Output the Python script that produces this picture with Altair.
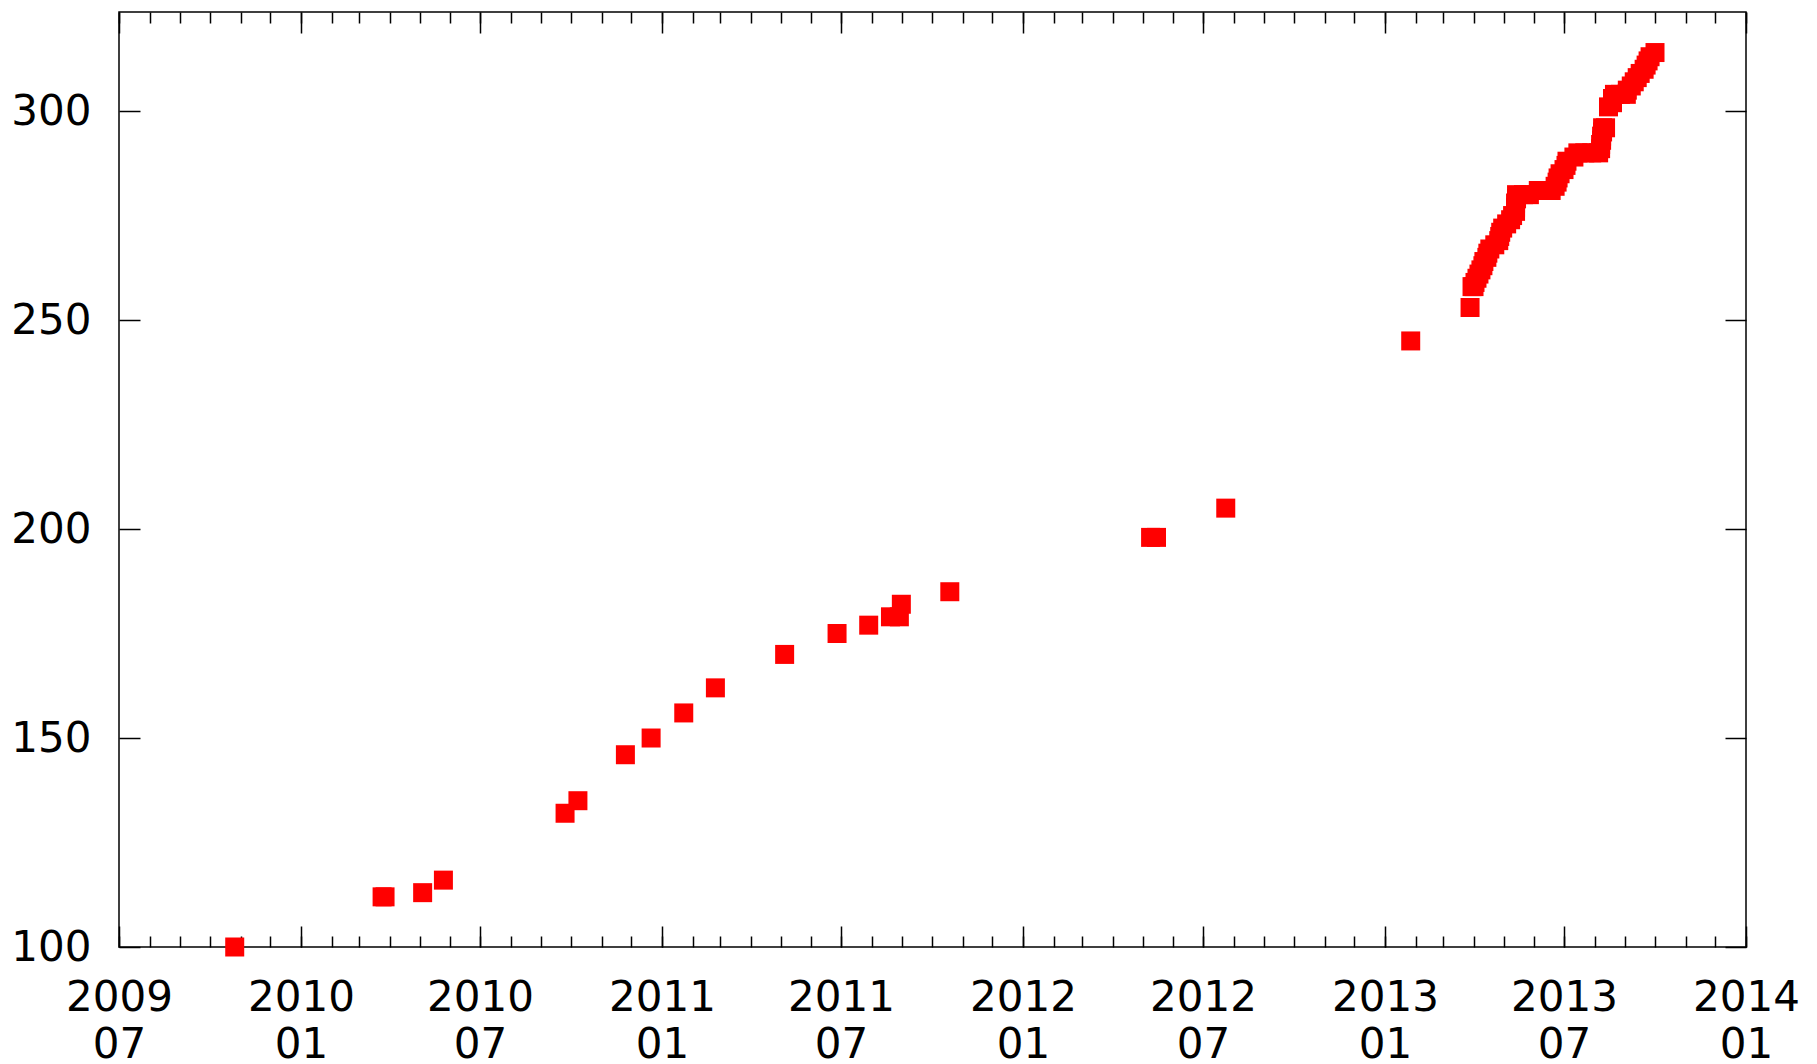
import altair as alt
import pandas as pd

# ---- data ----
dates = [
    "2009-10-26", "2010-03-24", "2010-03-27", "2010-05-04", "2010-05-25",
    "2010-09-25", "2010-10-08", "2010-11-25", "2010-12-21", "2011-01-23",
    "2011-02-24", "2011-05-05", "2011-06-27", "2011-07-29", "2011-08-20",
    "2011-08-29", "2011-08-31", "2011-10-19", "2012-05-09", "2012-05-15",
    "2012-07-24", "2013-01-27", "2013-03-28",
    "2013-03-30", "2013-04-01", "2013-04-02", "2013-04-04", "2013-04-06",
    "2013-04-08", "2013-04-10", "2013-04-11", "2013-04-14", "2013-04-15",
    "2013-04-17", "2013-04-22", "2013-04-26", "2013-04-27", "2013-04-28",
    "2013-04-30", "2013-05-04", "2013-05-08", "2013-05-10", "2013-05-13",
    "2013-05-13", "2013-05-13", "2013-05-14", "2013-05-14", "2013-05-21",
    "2013-05-27", "2013-06-05", "2013-06-11", "2013-06-18", "2013-06-22",
    "2013-06-24", "2013-06-25", "2013-06-27", "2013-07-01", "2013-07-03",
    "2013-07-04", "2013-07-11", "2013-07-15", "2013-07-22", "2013-07-29",
    "2013-08-05", "2013-08-07", "2013-08-07", "2013-08-08", "2013-08-08",
    "2013-08-09", "2013-08-09", "2013-08-12", "2013-08-15", "2013-08-19",
    "2013-08-19", "2013-08-21", "2013-08-27", "2013-09-02", "2013-09-03",
    "2013-09-07", "2013-09-10", "2013-09-13", "2013-09-16", "2013-09-20",
    "2013-09-22", "2013-09-24", "2013-09-26", "2013-10-01",
]
counts = [
    100, 112, 112, 113, 116,
    132, 135, 146, 150, 156,
    162, 170, 175, 177, 179,
    179, 182, 185, 198, 198,
    205, 245, 253,
    258, 258, 259, 260, 261,
    262, 263, 264, 265, 266,
    267, 268, 269, 270, 271,
    272, 273, 274, 275, 276,
    277, 278, 279, 280, 280,
    280, 281, 281, 281, 282,
    283, 284, 285, 286, 287,
    288, 289, 290, 290, 290,
    290, 291, 292, 293, 294,
    295, 296, 296, 301, 302,
    303, 304, 304, 304, 305,
    306, 307, 308, 309, 310,
    311, 312, 313, 314,
]

major_months = [(2009, 7), (2010, 1), (2010, 7), (2011, 1), (2011, 7),
                (2012, 1), (2012, 7), (2013, 1), (2013, 7), (2014, 1)]
y_ticks = [100, 150, 200, 250, 300]

df = pd.DataFrame({"date": dates, "count": counts})

W, H = 1627, 935
FONT = "DejaVu Sans"
MAJ, MIN = 21, 11
TW = 1.5


def dt(y, m):
    return alt.DateTime(year=y, month=m, date=1, utc=True)


major_x = [dt(y, m) for (y, m) in major_months]
minor_x = [dt(2009 + (6 + i) // 12, (6 + i) % 12 + 1) for i in range(55)]

xscale = alt.Scale(type="utc", domain=[dt(2009, 7), dt(2014, 1)], nice=False)
yscale = alt.Scale(domain=[100, 323.7], nice=False, zero=False)


def tick_axis(orient, values, size, offset):
    return alt.Axis(orient=orient, offset=offset, values=values, tickSize=size,
                    tickWidth=TW, tickColor="black", labels=False,
                    domain=False, grid=False, title=None)


def layer(x_axis, y_axis, visible):
    return alt.Chart(df).mark_square(
        size=361, color="#ff0000", opacity=1 if visible else 0, strokeWidth=0
    ).encode(
        x=alt.X("date:T", scale=xscale, axis=x_axis, title=None),
        y=alt.Y("count:Q", scale=yscale, axis=y_axis, title=None),
    )


x_labels = alt.Axis(
    orient="bottom", values=major_x, ticks=False, tickSize=0, domain=False,
    grid=False, title=None,
    labelExpr="[utcFormat(datum.value, '%Y'), utcFormat(datum.value, '%m')]",
    labelFont=FONT, labelFontSize=42, labelColor="black", labelPadding=30,
    labelLineHeight=47, labelFlush=False, labelOverlap=False,
    labelBaseline="top", labelAlign="center",
)
y_labels = alt.Axis(
    orient="left", values=y_ticks, ticks=False, tickSize=0, domain=False,
    grid=False, title=None, labelFont=FONT, labelFontSize=42,
    labelColor="black", labelPadding=28, labelOverlap=False,
    labelFlush=False, labelBaseline="middle",
)

l0 = layer(x_labels, y_labels, True)
l1 = layer(tick_axis("top", major_x, MAJ, -H), tick_axis("right", y_ticks, MAJ, -W), False)
l2 = layer(tick_axis("top", minor_x, MIN, -H), tick_axis("left", y_ticks, MAJ, -W), False)
l3 = layer(tick_axis("bottom", major_x, MAJ, -H), None, False)
l4 = layer(tick_axis("bottom", minor_x, MIN, -H), None, False)

chart = (
    alt.layer(l1, l2, l3, l4, l0)
    .resolve_axis(x="independent", y="independent")
    .properties(
        width=W, height=H,
        autosize=alt.AutoSizeParams(type="none"),
        padding={"left": 111, "top": 4, "right": 56, "bottom": 118},
        background="white",
    )
    .configure_view(stroke="black", strokeWidth=TW)
)

chart.save("out.html", embed_options={"renderer": "svg", "actions": False})
